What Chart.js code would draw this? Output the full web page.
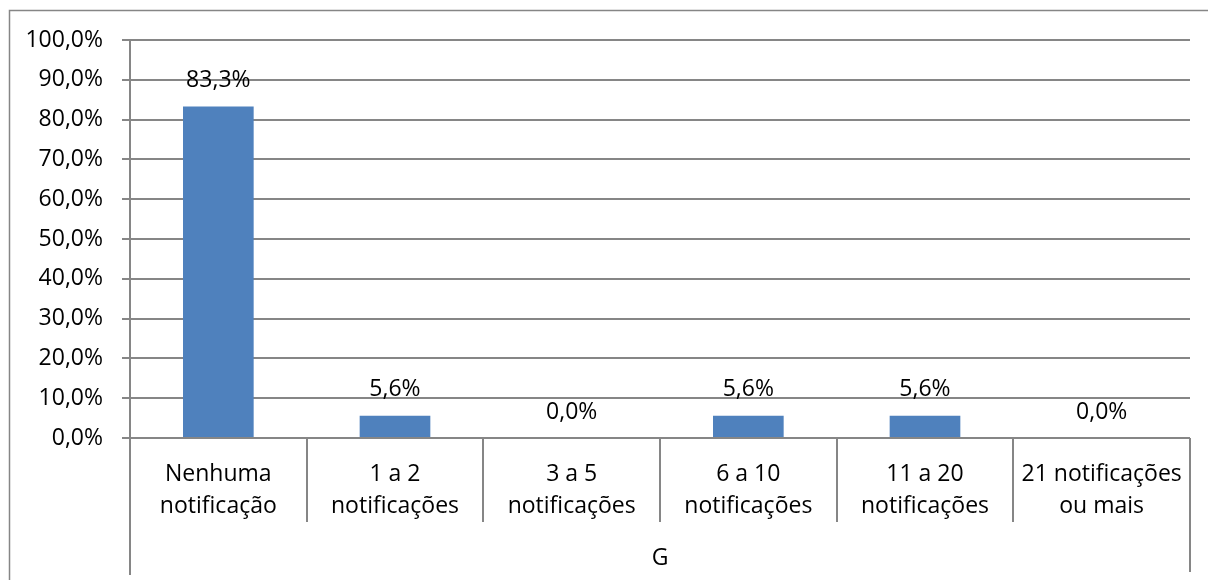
<!DOCTYPE html>
<html>
<head>
<meta charset="utf-8">
<script src="https://cdn.jsdelivr.net/npm/chart.js@4/dist/chart.umd.min.js"></script>
<style>
  html, body { margin: 0; padding: 0; background: #fff; }
  #wrap { width: 1208px; height: 580px; position: relative; }
</style>
</head>
<body>
<div id="wrap"><canvas id="c" width="1208" height="580"></canvas></div>
<script>
// Categories (two lines each) and the group name beneath them
const categories = [
  ['Nenhuma', 'notificação'],
  ['1 a 2', 'notificações'],
  ['3 a 5', 'notificações'],
  ['6 a 10', 'notificações'],
  ['11 a 20', 'notificações'],
  ['21 notificações', 'ou mais']
];
const groupLabel = 'G';
// Share of respondents, in percent
const values = [83.3, 5.6, 0.0, 5.6, 5.6, 0.0];
// Value axis ticks
const yTicks = [0, 10, 20, 30, 40, 50, 60, 70, 80, 90, 100];

const FONT = '"Open Sans", Lato, sans-serif';
const FONT_SIZE = 23;
const LINE = '#868686';
const BAR = '#4F81BD';

const fmt = v => v.toFixed(1).replace('.', ',') + '%';

// Outer frame, category dividers and the group label
const framePlugin = {
  id: 'frame',
  beforeDraw(chart) {
    const ctx = chart.ctx;
    ctx.save();
    ctx.strokeStyle = LINE;
    ctx.lineWidth = 1.5;
    ctx.strokeRect(9.5, 10.5, 1400, 1000);
    ctx.restore();
  },
  afterDraw(chart) {
    const ctx = chart.ctx;
    const x = chart.scales.x;
    const area = chart.chartArea;
    const n = categories.length;
    const step = (x.getPixelForValue(1) - x.getPixelForValue(0));
    ctx.save();
    ctx.strokeStyle = LINE;
    ctx.lineWidth = 2;
    // inner dividers between categories
    for (let i = 1; i < n; i++) {
      const px = Math.round(x.getPixelForValue(i) - step / 2);
      ctx.beginPath();
      ctx.moveTo(px, area.bottom);
      ctx.lineTo(px, area.bottom + 84);
      ctx.stroke();
    }
    // outer edges of the group
    const left = Math.round(x.getPixelForValue(0) - step / 2);
    const right = Math.round(x.getPixelForValue(n - 1) + step / 2);
    ctx.beginPath();
    ctx.moveTo(left, area.bottom);
    ctx.lineTo(left, area.bottom + 137);
    ctx.moveTo(right, area.bottom);
    ctx.lineTo(right, area.bottom + 134);
    ctx.stroke();
    // group label
    ctx.fillStyle = '#000';
    ctx.font = FONT_SIZE + 'px ' + FONT;
    ctx.textAlign = 'center';
    ctx.textBaseline = 'middle';
    ctx.fillText(groupLabel, (left + right) / 2, area.bottom + 120);
    ctx.restore();
  },
  afterDatasetsDraw(chart) {
    const ctx = chart.ctx;
    const meta = chart.getDatasetMeta(0);
    ctx.save();
    ctx.fillStyle = '#000';
    ctx.font = FONT_SIZE + 'px ' + FONT;
    ctx.textAlign = 'center';
    ctx.textBaseline = 'middle';
    meta.data.forEach((bar, i) => {
      ctx.fillText(fmt(values[i]), bar.x, bar.y - 26);
    });
    ctx.restore();
  }
};

new Chart(document.getElementById('c'), {
  type: 'bar',
  data: {
    labels: categories,
    datasets: [{
      data: values,
      backgroundColor: BAR,
      borderWidth: 0,
      barPercentage: 0.4,
      categoryPercentage: 1.0
    }]
  },
  options: {
    responsive: false,
    animation: false,
    devicePixelRatio: 1,
    layout: { padding: { left: 0, right: 18, top: 40, bottom: 0 } },
    plugins: { legend: { display: false }, tooltip: { enabled: false } },
    scales: {
      x: {
        afterFit(scale) { scale.height = 142; },
        grid: { display: false, drawTicks: false },
        border: { display: false },
        ticks: {
          color: '#000',
          font: { family: FONT, size: FONT_SIZE, lineHeight: 32 / FONT_SIZE },
          padding: 20,
          maxRotation: 0,
          autoSkip: false
        }
      },
      y: {
        min: 0,
        max: 100,
        afterFit(scale) { scale.width = 130; },
        afterBuildTicks(scale) { scale.ticks = yTicks.map(v => ({ value: v })); },
        grid: { color: LINE, lineWidth: 2, tickLength: 8, drawTicks: true },
        border: { display: true, color: LINE, width: 2 },
        ticks: {
          color: '#000',
          font: { family: FONT, size: FONT_SIZE },
          padding: 19,
          callback: v => fmt(v)
        }
      }
    }
  },
  plugins: [framePlugin]
});
</script>
</body>
</html>
